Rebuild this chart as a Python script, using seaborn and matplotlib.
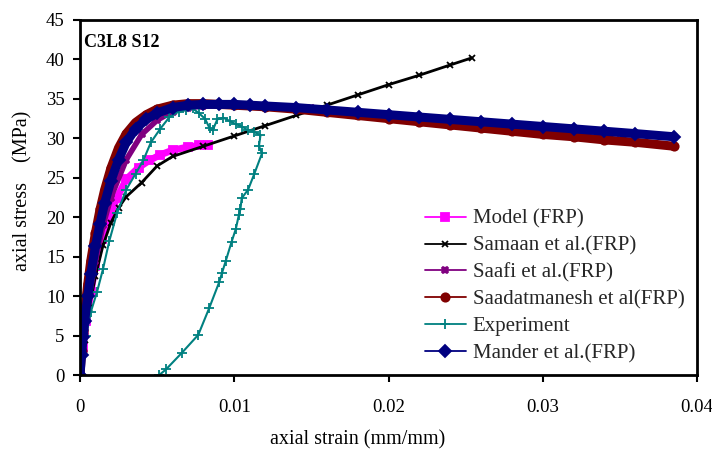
import matplotlib
matplotlib.use("Agg")
import matplotlib.pyplot as plt
import seaborn as sns
import pandas as pd

sns.set_theme(style="white")
plt.rcParams['font.family'] = ['Liberation Serif', 'DejaVu Serif']

# ---- data ----
model_x = [0, 0.0002, 0.0004, 0.0007, 0.001, 0.0014, 0.0019, 0.0024, 0.003, 0.0038, 0.0045, 0.0052, 0.006, 0.007, 0.0077, 0.0083]
model_y = [0, 3.5, 6.8, 10.5, 13.8, 17.2, 20.0, 22.5, 24.8, 26.3, 27.2, 27.9, 28.5, 28.9, 29.1, 29.2]

samaan_x = [0, 0.0003, 0.0006, 0.001, 0.0015, 0.002, 0.0025, 0.003, 0.004, 0.005, 0.006, 0.008, 0.010, 0.012, 0.014, 0.016, 0.018, 0.020, 0.022, 0.024, 0.0254]
samaan_y = [0, 4.5, 8.5, 12.5, 16.5, 19.3, 21.2, 22.6, 24.4, 26.5, 27.7, 29.0, 30.3, 31.6, 32.9, 34.2, 35.5, 36.8, 38.0, 39.3, 40.2]

saafi_x = [0, 0.0003, 0.0006, 0.001, 0.0015, 0.002, 0.003, 0.004, 0.005, 0.006, 0.007, 0.008, 0.010, 0.012, 0.015, 0.020, 0.025, 0.030, 0.035, 0.0385]
saafi_y = [0, 5.5, 10, 14.5, 19, 22.5, 27.3, 30.5, 32.3, 33.4, 33.9, 34.1, 34.2, 34.1, 33.8, 33.0, 32.2, 31.4, 30.7, 30.2]

saad_x = [0, 0.0001, 0.0002, 0.0003, 0.0005, 0.0007, 0.001, 0.0013, 0.0016, 0.002, 0.0025, 0.003, 0.0036, 0.0043, 0.005, 0.006, 0.007, 0.008, 0.009, 0.010, 0.012, 0.014, 0.016, 0.018, 0.020, 0.022, 0.024, 0.026, 0.028, 0.030, 0.032, 0.034, 0.036, 0.0385]
saad_y = [0, 3, 5.6, 8, 11.5, 14.5, 18, 21, 23.5, 26.2, 28.8, 30.6, 32, 33, 33.7, 34.2, 34.4, 34.4, 34.3, 34.2, 34.0, 33.7, 33.3, 32.9, 32.5, 32.1, 31.7, 31.3, 30.9, 30.5, 30.2, 29.8, 29.5, 29.0]

exp_x = [0, 0.0002, 0.0004, 0.0007, 0.0011, 0.0015, 0.0019, 0.0024, 0.003, 0.0036, 0.0041, 0.0046, 0.0052, 0.0058, 0.0064, 0.0069, 0.0073, 0.0077, 0.0081, 0.0084, 0.0086, 0.0089, 0.0093, 0.0097, 0.0101, 0.0105, 0.0109, 0.0113, 0.0117, 0.0116, 0.0118, 0.0113, 0.0109, 0.01048, 0.0104, 0.0103, 0.0101, 0.00983, 0.00944, 0.0092, 0.00903, 0.00838, 0.00767, 0.0066, 0.00557, 0.00514]
exp_y = [0, 2.5, 5, 8, 10.5, 13.5, 17, 20.5, 23.5, 25.5, 27.2, 29.5, 31.2, 32.7, 33.4, 33.6, 33.8, 33.2, 32.5, 31.3, 31.0, 32.4, 32.6, 32.2, 31.8, 31.5, 31.0, 30.8, 30.4, 29.0, 28.1, 25.5, 23.5, 22.4, 21.0, 20.3, 18.5, 16.9, 14.4, 12.9, 11.8, 8.5, 5.1, 2.8, 0.7, 0]

mander_x = [0, 0.0001, 0.0002, 0.0003, 0.0005, 0.0007, 0.001, 0.0013, 0.0016, 0.002, 0.0025, 0.003, 0.0036, 0.0043, 0.005, 0.006, 0.007, 0.008, 0.009, 0.010, 0.011, 0.012, 0.014, 0.016, 0.018, 0.020, 0.022, 0.024, 0.026, 0.028, 0.030, 0.032, 0.034, 0.036, 0.0385]
mander_y = [0, 2.5, 4.8, 6.8, 10, 12.8, 16.3, 19.2, 21.8, 24.6, 27.3, 29.5, 31.2, 32.4, 33.2, 33.9, 34.2, 34.3, 34.3, 34.3, 34.2, 34.1, 33.9, 33.6, 33.3, 33.0, 32.7, 32.4, 32.1, 31.8, 31.5, 31.2, 30.9, 30.6, 30.2]

x_ticks = [0, 0.01, 0.02, 0.03, 0.04]
x_tick_labels = ["0", "0.01", "0.02", "0.03", "0.04"]
y_ticks = [0, 5, 10, 15, 20, 25, 30, 35, 40, 45]

series = [
    ("Model (FRP)", model_x, model_y, "#FF00FF", "s", 6, 5.0),
    ("Samaan et al.(FRP)", samaan_x, samaan_y, "#000000", "x", 4, 2.0),
    ("Saafi et al.(FRP)", saafi_x, saafi_y, "#800080", "X", 5, 4.0),
    ("Saadatmanesh et al(FRP)", saad_x, saad_y, "#800000", "o", 6, 6.5),
    ("Experiment", exp_x, exp_y, "#008080", "+", 7, 1.5),
    ("Mander et al.(FRP)", mander_x, mander_y, "#000080", "D", 6, 6.5),
]

fig = plt.figure(figsize=(7.12, 4.49), dpi=100)
ax = fig.add_axes([80/712, 1-375/449, 617/712, 355/449])

for name, xs, ys, col, mk, ms, lw in series:
    df = pd.DataFrame({"x": xs, "y": ys})
    sns.lineplot(data=df, x="x", y="y", sort=False, estimator=None, ax=ax,
                 color=col, marker=mk, markersize=ms, linewidth=lw,
                 markeredgecolor=col, markeredgewidth=1.3, label=name)

ax.set_xlim(0, 0.04)
ax.set_ylim(0, 45)
ax.set_xticks(x_ticks)
ax.set_xticklabels(x_tick_labels)
ax.set_yticks(y_ticks)
ax.tick_params(axis='both', direction='out', length=5, width=1.5, labelsize=13.5,
               color='black', labelcolor='black', bottom=True, left=True)
ax.tick_params(axis='x', pad=12)
ax.tick_params(axis='y', pad=6)
for s in ax.spines.values():
    s.set_color('black')
    s.set_linewidth(2)

ax.set_xlabel("axial strain (mm/mm)", fontsize=14.5, color='black')
ax.xaxis.set_label_coords(0.45, -0.155)
ax.set_ylabel("axial stress    (MPa)", fontsize=14.5, color='black')
ax.yaxis.set_label_coords(-0.077, 0.52)
ax.text(0.006, 0.96, "C3L8 S12", transform=ax.transAxes, fontsize=13,
        fontweight='bold', va='top', ha='left', color='black')

leg = ax.legend(loc='upper left', bbox_to_anchor=(0.545, 0.49), frameon=False,
                fontsize=15, handlelength=2.0, handletextpad=0.3,
                labelspacing=0.35, borderaxespad=0)
for h in leg.legend_handles:
    h.set_linewidth(1.3)

fig.savefig("out.png", dpi=100, facecolor='white')
